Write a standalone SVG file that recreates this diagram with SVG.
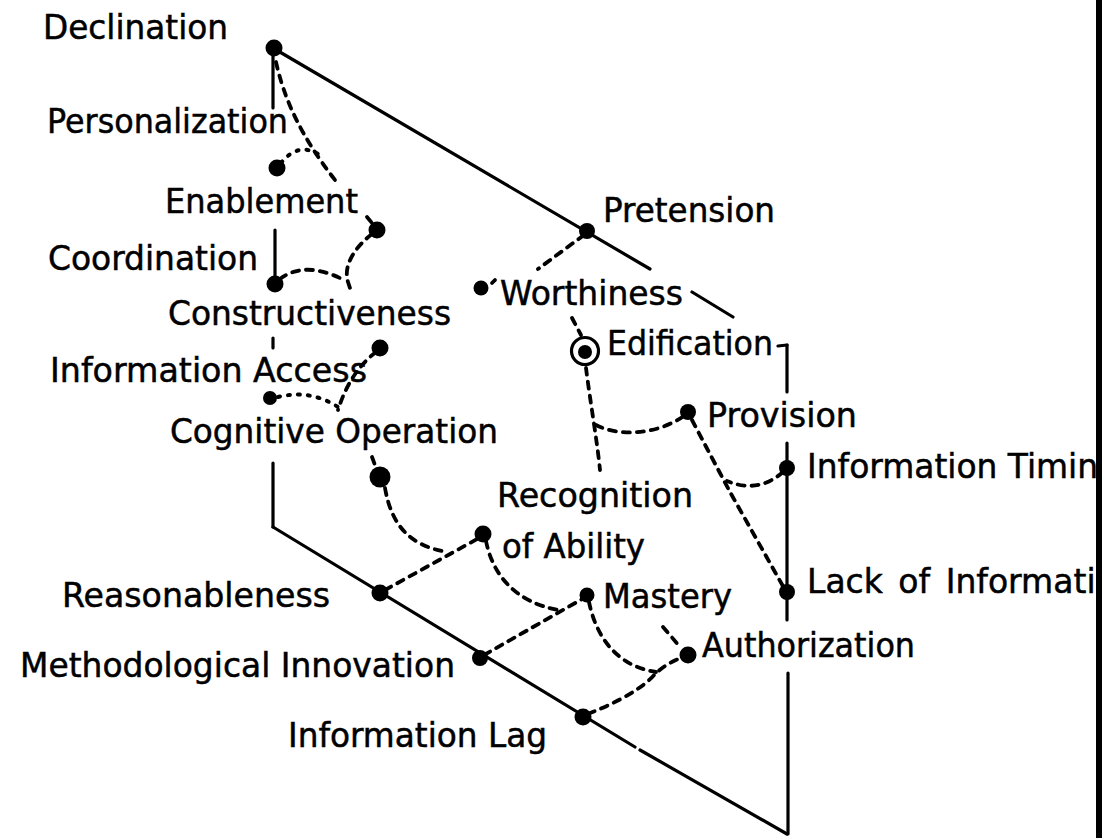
<svg xmlns="http://www.w3.org/2000/svg" width="1105" height="838" viewBox="0 0 1105 838">
  <defs>
    <style>
      .edge { fill: none; stroke: #000; stroke-width: 3.2; stroke-linecap: round; stroke-linejoin: round; }
      .dash { fill: none; stroke: #000; stroke-width: 3.8; stroke-linecap: round; stroke-dasharray: 7 7; }
      .dot { fill: none; stroke: #000; stroke-width: 4; stroke-linecap: round; stroke-dasharray: 2 8; }
      .pt { fill: #000; }
      .lbl { font-family: "DejaVu Sans", "Liberation Sans", Arial, sans-serif; font-size: 33px; fill: #000; stroke: #000; stroke-width: 0.5; }
    </style>
    <clipPath id="pageClip">
      <rect x="0" y="0" width="1096" height="838"/>
    </clipPath>
  </defs>
  <rect width="1105" height="838" fill="#fff"/>

  <!-- outer frame: left post, top rail, right post, bottom rail -->
  <g id="frame">
    <path class="edge" d="M273,48 V108 M275,230 V282 M273,338 V348 M273,463 V527"/>
    <path class="edge" d="M273,48 L650,269 M692,292 L733,317 M778,346 L787,345"/>
    <path class="edge" d="M787,345 V392 M787,443 V620 M788,673 V834"/>
    <path class="edge" d="M273,527 L635,747 M640,750 L787,834"/>
    <rect x="1096" y="0" width="6" height="838" fill="#000"/>
  </g>

  <!-- dashed and dotted connectors -->
  <g id="connectors">
    <path class="dash" d="M276,62 C284,98 300,135 335,180"/>
    <path class="dash" d="M367,217 L376,228"/>
    <path class="dot" d="M281,163 Q298,142 318,154"/>
    <path class="dash" d="M372,234 C354,248 343,266 348,282 L352,294"/>
    <path class="dash" d="M280,279 Q305,260 344,280"/>
    <path class="dash" d="M376,352 Q350,372 338,410"/>
    <path class="dash" d="M372,457 L375,465"/>
    <path class="dot" d="M278,397 Q310,389 338,407"/>
    <path class="dash" d="M385,488 C391,522 407,546 448,552"/>
    <path class="dash" d="M385,590 L479,538"/>
    <path class="dash" d="M486,541 C493,576 516,602 558,610"/>
    <path class="dash" d="M484,655 L584,598"/>
    <path class="dash" d="M589,602 C596,636 616,666 656,672"/>
    <path class="dash" d="M588,714 Q638,694 655,674 Q668,662 684,657"/>
    <path class="dash" d="M663,627 L681,648"/>
    <path class="dash" d="M584,235 L538,269"/>
    <path class="dash" d="M492,283 L495,280"/>
    <path class="dash" d="M572,318 L581,335"/>
    <path class="dash" d="M586,368 C590,400 597,440 600,470"/>
    <path class="dash" d="M596,425 C617,436 655,436 684,416"/>
    <path class="dash" d="M692,420 Q712,458 730,492 L784,588"/>
    <path class="dash" d="M783,472 Q758,494 727,481"/>
  </g>

  <g id="declination">
    <circle class="pt" cx="274" cy="48" r="8.5"/>
    <text class="lbl" x="43" y="39" textLength="185" lengthAdjust="spacingAndGlyphs">Declination</text>
  </g>
  <g id="personalization">
    <circle class="pt" cx="277" cy="168" r="8.5"/>
    <text class="lbl" x="47" y="133" textLength="241" lengthAdjust="spacingAndGlyphs">Personalization</text>
  </g>
  <g id="enablement">
    <circle class="pt" cx="377" cy="230" r="8.5"/>
    <text class="lbl" x="165" y="213" textLength="193" lengthAdjust="spacingAndGlyphs">Enablement</text>
  </g>
  <g id="coordination">
    <circle class="pt" cx="275" cy="284" r="8.5"/>
    <text class="lbl" x="48" y="270" textLength="210" lengthAdjust="spacingAndGlyphs">Coordination</text>
  </g>
  <g id="constructiveness">
    <circle class="pt" cx="380" cy="348" r="8.5"/>
    <text class="lbl" x="168" y="325" textLength="283" lengthAdjust="spacingAndGlyphs">Constructiveness</text>
  </g>
  <g id="information-access">
    <circle class="pt" cx="270" cy="398" r="7"/>
    <text class="lbl" x="50" y="382" textLength="317" lengthAdjust="spacingAndGlyphs">Information Access</text>
  </g>
  <g id="cognitive-operation">
    <circle class="pt" cx="380" cy="477" r="10.5"/>
    <text class="lbl" x="170" y="443" textLength="328" lengthAdjust="spacingAndGlyphs">Cognitive Operation</text>
  </g>
  <g id="pretension">
    <circle class="pt" cx="587" cy="231" r="8"/>
    <text class="lbl" x="603" y="222" textLength="172" lengthAdjust="spacingAndGlyphs">Pretension</text>
  </g>
  <g id="worthiness">
    <circle class="pt" cx="481" cy="288" r="7.5"/>
    <text class="lbl" x="500" y="305" textLength="183" lengthAdjust="spacingAndGlyphs">Worthiness</text>
  </g>
  <g id="edification">
    <circle cx="585" cy="351" r="13.5" fill="none" stroke="#000" stroke-width="3.2"/>
    <circle class="pt" cx="585" cy="352" r="7"/>
    <text class="lbl" x="607" y="355" textLength="166" lengthAdjust="spacingAndGlyphs">Edification</text>
  </g>
  <g id="provision">
    <circle class="pt" cx="688" cy="412" r="8"/>
    <text class="lbl" x="707" y="427" textLength="150" lengthAdjust="spacingAndGlyphs">Provision</text>
  </g>
  <g id="information-timing">
    <circle class="pt" cx="787" cy="468" r="8"/>
    <text class="lbl" x="807" y="478" textLength="312" lengthAdjust="spacingAndGlyphs" clip-path="url(#pageClip)">Information Timing</text>
  </g>
  <g id="lack-of-information">
    <circle class="pt" cx="787" cy="592" r="8"/>
    <text class="lbl" x="807" y="593" word-spacing="5" clip-path="url(#pageClip)">Lack of Information</text>
  </g>
  <g id="recognition-of-ability">
    <circle class="pt" cx="483" cy="534" r="8.5"/>
    <text class="lbl" x="497" y="507" textLength="196" lengthAdjust="spacingAndGlyphs">Recognition</text>
    <text class="lbl" x="502" y="558" textLength="143" lengthAdjust="spacingAndGlyphs">of Ability</text>
  </g>
  <g id="mastery">
    <circle class="pt" cx="587" cy="595" r="7.5"/>
    <text class="lbl" x="603" y="608" textLength="129" lengthAdjust="spacingAndGlyphs">Mastery</text>
  </g>
  <g id="authorization">
    <circle class="pt" cx="688" cy="655" r="8.5"/>
    <text class="lbl" x="702" y="657" textLength="213" lengthAdjust="spacingAndGlyphs">Authorization</text>
  </g>
  <g id="reasonableness">
    <circle class="pt" cx="380" cy="593" r="8.5"/>
    <text class="lbl" x="62" y="607" textLength="268" lengthAdjust="spacingAndGlyphs">Reasonableness</text>
  </g>
  <g id="methodological-innovation">
    <circle class="pt" cx="480" cy="658" r="8"/>
    <text class="lbl" x="20" y="677" textLength="435" lengthAdjust="spacingAndGlyphs">Methodological Innovation</text>
  </g>
  <g id="information-lag">
    <circle class="pt" cx="583" cy="717" r="8.5"/>
    <text class="lbl" x="288" y="747" textLength="259" lengthAdjust="spacingAndGlyphs">Information Lag</text>
  </g>
</svg>
